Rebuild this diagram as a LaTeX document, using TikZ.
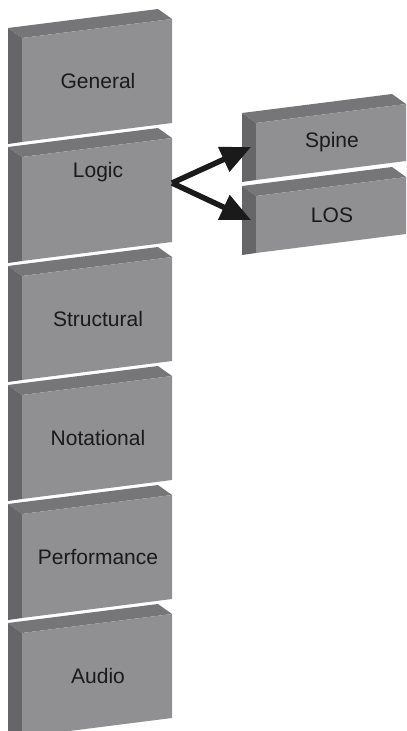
\documentclass[tikz,border=0pt]{standalone}
\usepackage{fontspec}
\setmainfont{Liberation Sans}
\usetikzlibrary{arrows.meta}
\definecolor{frontgray}{RGB}{144,144,146}
\definecolor{sidegray}{RGB}{102,102,104}
\definecolor{topgray}{RGB}{118,118,120}
\definecolor{inkgray}{RGB}{26,26,26}
\tikzset{%
  front face/.style={fill=frontgray},
  side face/.style={fill=sidegray},
  top face/.style={fill=topgray},
  label text/.style={text=inkgray,font=\fontsize{21}{25}\selectfont,inner sep=0pt},
  link/.style={draw=inkgray,line width=5.5pt,-{Triangle[length=30pt,width=26pt]}}
}
% #1 label options, #2 name, #3 x of front corner, #4 y of front corner, #5 height, #6 text
\newcommand{\block}[6][]{%
  \fill[top face] ({#3-14},{#4-10}) -- ({#3+136},{#4-29}) -- ({#3+150},{#4-19}) -- (#3,#4) -- cycle;
  \fill[side face] ({#3-14},{#4-10}) -- (#3,#4) -- (#3,{#4+#5}) -- ({#3-14},{#4+#5+2}) -- cycle;
  \fill[front face] (#3,#4) -- ({#3+150},{#4-19}) -- ({#3+150},{#4+#5-19}) -- (#3,{#4+#5}) -- cycle;
  \node[label text,#1] (#2) at ({#3+76},{#4+#5/2-9.5}) {#6};
  \coordinate (#2 east) at ({#3+150},{#4+26});
  \coordinate (#2 west) at ({#3-5},{#4+24});
}

\begin{document}
\begin{tikzpicture}[x=1pt,y=-1pt]

    \useasboundingbox (0,0) rectangle (407,731);
    \clip (0,0) rectangle (407,731);

    % left column of blocks
    \block{general}{22}{38}{104}{General}
    \block[yshift=27pt]{logic}{22}{157}{104}{Logic}
    \block{structural}{22}{276}{104}{Structural}
    \block{notational}{22}{395}{104}{Notational}
    \block{performance}{22}{514}{104}{Performance}
    \block{audio}{22}{633}{104}{Audio}

    % right column
    \block{spine}{256}{123}{57}{Spine}
    \block{los}{256}{196}{57}{LOS}

    % arrows from Logic
    \draw[link] (logic east) -- (spine west);
    \draw[link] (logic east) -- (los west);

\end{tikzpicture}
\end{document}
